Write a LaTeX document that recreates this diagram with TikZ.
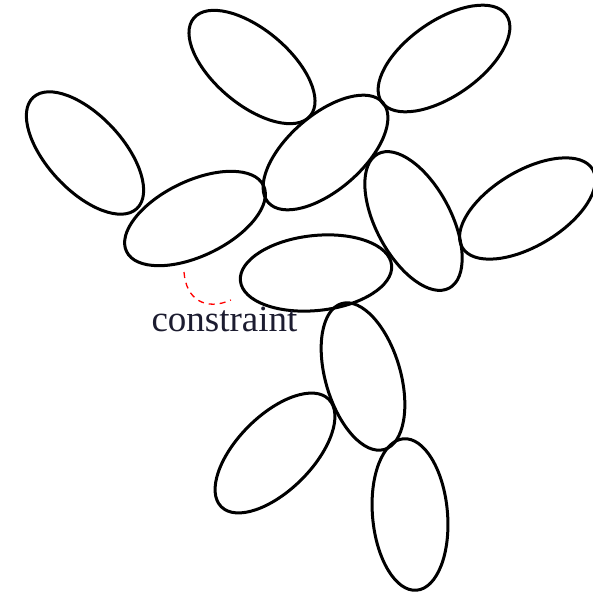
\documentclass[tikz,border=0pt]{standalone}
\usepackage{fontspec}
\setmainfont{Liberation Serif}
\usetikzlibrary{shapes.geometric}
\definecolor{labelcol}{RGB}{28,28,48}
\tikzset{
  link/.style={draw=black, line width=3pt, ellipse, inner sep=0pt, minimum width=152pt, minimum height=75pt},
  constr/.style={draw=red, line width=1.3pt, dash pattern=on 6pt off 5pt}
}
\begin{document}
\begin{tikzpicture}[x=1pt,y=-1pt]
\useasboundingbox (0,0) rectangle (593,591);
\node[link, rotate=-40] (e1) at (252,67) {};
\node[link, rotate=35] (e2) at (444,58.5) {};
\node[link, rotate=-47] (e3) at (85,153) {};
\node[link, rotate=25.7] (e4) at (195,218.5) {};
\node[link, rotate=41] (e5) at (325.5,152.5) {};
\node[link, rotate=-62] (e6) at (413.5,221) {};
\node[link, rotate=31] (e7) at (527.5,208.5) {};
\node[link, rotate=6] (e8) at (316,273) {};
\node[link, rotate=-73.7] (e9) at (363,376.5) {};
\node[link, rotate=45] (e10) at (275,453) {};
\node[link, rotate=-85] (e11) at (410,514.5) {};
\coordinate (c1) at (184,272);
\coordinate (c2) at (231,300);
\draw[constr] (c1) .. controls (186,300) and (206,311) .. (c2);
\node[anchor=base, text=labelcol, font=\fontsize{37}{42}\selectfont, inner sep=0pt] (lbl) at (224.5,331) {constraint};
\end{tikzpicture}
\end{document}
